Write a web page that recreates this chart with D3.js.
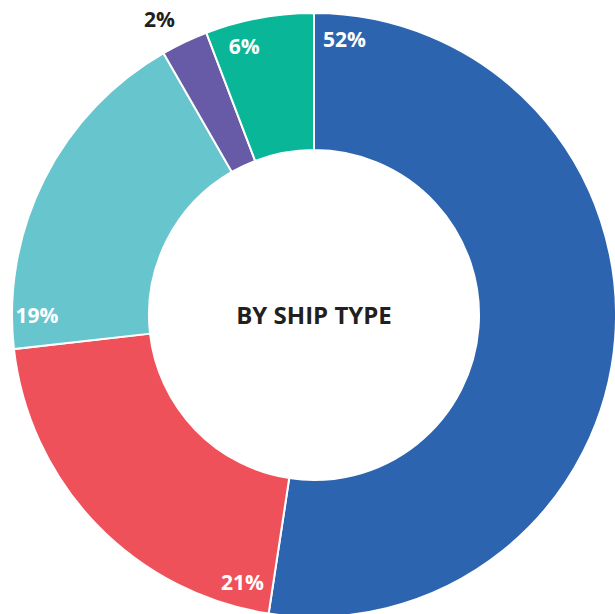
<!DOCTYPE html>
<html>
<head>
<meta charset="utf-8">
<script src="https://cdn.jsdelivr.net/npm/d3@7"></script>
<style>
  body { margin: 0; background: #fff; }
  svg { display: block; }
</style>
</head>
<body>
<svg id="chart"></svg>
<script>
const width = 615;
const height = 614;

// ship type shares, clockwise from 12 o'clock
const types = ["Type A", "Type B", "Type C", "Type D", "Type E"];
const shares = [52.4, 20.8, 18.5, 2.5, 5.8];
const colors = ["#2c64b0", "#ef515b", "#67c5cd", "#675ba8", "#09b697"];
const labels = ["52%", "21%", "19%", "2%", "6%"];

const cx = 314, cy = 315;
const outerR = 302, innerR = 165;

let svg = d3.select("#chart")
  .attr("width", width)
  .attr("height", height);

const g = svg.append("g")
  .attr("transform", `translate(${cx},${cy})`);

const pie = d3.pie().sort(null).value(d => d.value);
const arcs = pie(types.map((t, i) => ({ type: t, value: shares[i], i: i })));

const arc = d3.arc()
  .innerRadius(innerR)
  .outerRadius(outerR);

g.selectAll("path")
  .data(arcs)
  .enter()
  .append("path")
  .attr("d", arc)
  .attr("fill", d => colors[d.data.i])
  .attr("stroke", "#fff")
  .attr("stroke-width", 2);

// label position: near the start edge of the slice, or outside for tiny slices
function labelPos(d) {
  const small = d.data.value < 3;
  const mid = (d.startAngle + d.endAngle) / 2;
  const a = small ? mid - 0.04 : Math.min(d.startAngle + 0.11, mid);
  const r = small ? 333 : 277;
  return [Math.sin(a) * r, -Math.cos(a) * r];
}

g.selectAll("text.lbl")
  .data(arcs)
  .enter()
  .append("text")
  .attr("class", "lbl")
  .attr("x", d => labelPos(d)[0])
  .attr("y", d => labelPos(d)[1])
  .attr("dy", "0.33em")
  .attr("text-anchor", "middle")
  .attr("font-family", "'Open Sans', sans-serif")
  .attr("font-weight", "bold")
  .attr("font-size", "21px")
  .attr("fill", d => d.data.value < 3 ? "#231f20" : "#fff")
  .text(d => labels[d.data.i]);

g.append("text")
  .attr("x", 0)
  .attr("y", 1)
  .attr("dy", "0.35em")
  .attr("text-anchor", "middle")
  .attr("font-family", "'Open Sans', sans-serif")
  .attr("font-weight", "bold")
  .attr("font-size", "24px")
  .attr("fill", "#231f20")
  .text("BY SHIP TYPE");
</script>
</body>
</html>
